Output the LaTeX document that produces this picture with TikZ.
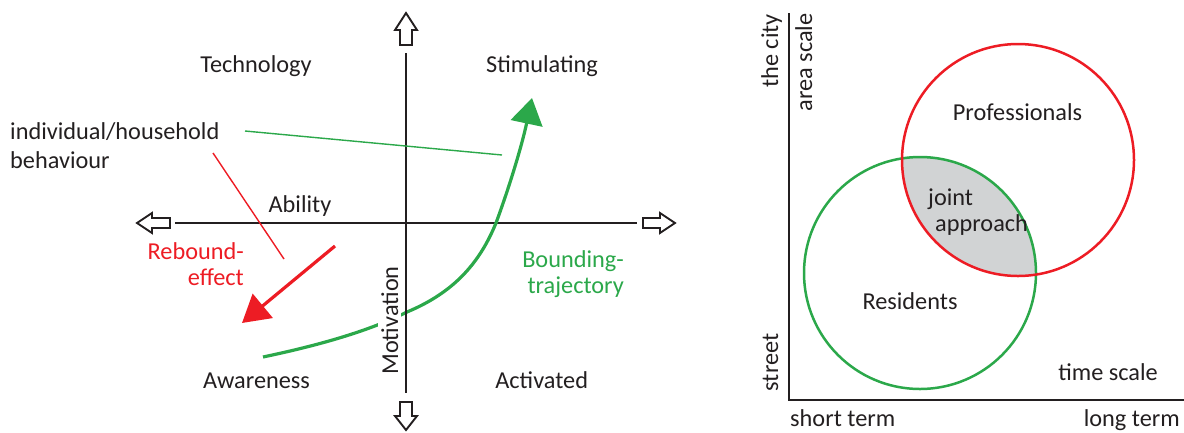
\documentclass[tikz,border=0pt]{standalone}
\usepackage{fontspec}
\setmainfont{Carlito}
\usetikzlibrary{arrows.meta}
\definecolor{ink}{HTML}{231F20}
\definecolor{myred}{HTML}{ED1C24}
\definecolor{mygreen}{HTML}{2BA84A}
\definecolor{lens}{HTML}{D1D3D4}
\tikzset{
  lbl/.style={font=\fontsize{24.3}{29}\selectfont, text=ink, inner sep=0pt},
  axisline/.style={line width=2.4pt, draw=ink},
  blockarrow/.style={line width=1.9pt, draw=ink, fill=white, line join=miter},
  thinpointer/.style={line width=1.4pt},
  thickarrow/.style={line width=3.2pt},
  venn/.style={line width=2.5pt}
}
\begin{document}
\begin{tikzpicture}[x=1pt,y=-1pt]
\useasboundingbox (0,0) rectangle (1184,432);
% ---------- left panel ----------
\coordinate (hl) at (175,223);
\coordinate (hr) at (637,223);
\coordinate (vt) at (406,53);
\coordinate (vb) at (406,393);
\draw[axisline] (hl) -- (hr);
\draw[axisline] (vt) -- (vb);
% block arrows
\draw[blockarrow] (406,13) -- (417,30) -- (412,30) -- (412,45) -- (400,45) -- (400,30) -- (395,30) -- cycle;
\draw[blockarrow] (406,430) -- (417,416) -- (412,416) -- (412,402) -- (400,402) -- (400,416) -- (395,416) -- cycle;
\draw[blockarrow] (137,223) -- (152,213) -- (152,218) -- (170,218) -- (170,228) -- (152,228) -- (152,233) -- cycle;
\draw[blockarrow] (675,223) -- (660,213) -- (660,218) -- (643,218) -- (643,228) -- (660,228) -- (660,233) -- cycle;
% labels
\node[lbl, anchor=base] (tech) at (256,72) {Technology};
\node[lbl, anchor=base] (stim) at (542,72) {Stimulating};
\node[lbl, anchor=base west] (ind) at (10,139) {individual/household};
\node[lbl, anchor=base west] (beh) at (10,168) {behaviour};
\node[lbl, anchor=base] (abil) at (300,212) {Ability};
\node[lbl, anchor=base east, text=myred] (reb1) at (244,259) {Rebound-};
\node[lbl, anchor=base east, text=myred] (reb2) at (244,285) {effect};
\node[lbl, anchor=base east, text=mygreen] (bt1) at (624,267) {Bounding-};
\node[lbl, anchor=base east, text=mygreen] (bt2) at (624,293) {trajectory};
\node[lbl, anchor=base] (aw) at (256.5,388) {Awareness};
\node[lbl, anchor=base] (act) at (541.7,388) {Activated};
% pointers
\coordinate (gp1) at (245,131);
\coordinate (gp2) at (502,155);
\draw[thinpointer, mygreen] (gp1) -- (gp2);
\coordinate (rp1) at (213,153);
\coordinate (rp2) at (284,259);
\draw[thinpointer, myred] (rp1) -- (rp2);
% rebound arrow
\coordinate (rs) at (335,246);
\coordinate (rt) at (242,323);
\draw[thickarrow, myred, -{Triangle[length=27pt,width=31pt]}] (rs) -- (rt);
% bounding trajectory
\coordinate (gs) at (263,357);
\coordinate (gm1) at (407,312);
\coordinate (gm2) at (496,223);
\coordinate (gt) at (532,98);
\draw[thickarrow, mygreen, -{Triangle[length=26pt,width=32pt]}]
  (gs) .. controls (330,343) and (375,328) .. (gm1)
  .. controls (455,292) and (480,262) .. (gm2)
  .. controls (510,185) and (522,145) .. (gt);
\node[lbl, rotate=90, anchor=base, fill=white, inner sep=3pt] (mot) at (398,320.5) {Motivation};
\draw[axisline] (406,300) -- (406,345);
% ---------- right panel ----------
\coordinate (pc) at (1018,160);
\coordinate (rc) at (920,273);
\begin{scope}
  \clip (pc) circle[radius=116];
  \fill[lens] (rc) circle[radius=116];
\end{scope}
\draw[venn, mygreen] (rc) circle[radius=116];
\draw[venn, myred] (pc) circle[radius=116];
\coordinate (ax0) at (789,400);
\coordinate (axt) at (789,14);
\coordinate (axr) at (1184,400);
\draw[axisline, line cap=rect] (axt) -- (ax0) -- (axr);
\node[lbl, anchor=base] (prof) at (1017.5,120) {Professionals};
\node[lbl, anchor=base west] (joint) at (928,205) {joint};
\node[lbl, anchor=base west] (appr) at (935,231) {approach};
\node[lbl, anchor=base] (res) at (910,309) {Residents};
\node[lbl, anchor=base] (ts) at (1108,380) {time scale};
\node[lbl, anchor=base west] (st) at (790,426) {short term};
\node[lbl, anchor=base east] (lt) at (1180,426) {long term};
\node[lbl, rotate=90, anchor=base] (city) at (778,51) {the city};
\node[lbl, rotate=90, anchor=base] (area) at (812,62.5) {area scale};
\node[lbl, rotate=90, anchor=base] (street) at (778,362.5) {street};
\end{tikzpicture}
\end{document}
